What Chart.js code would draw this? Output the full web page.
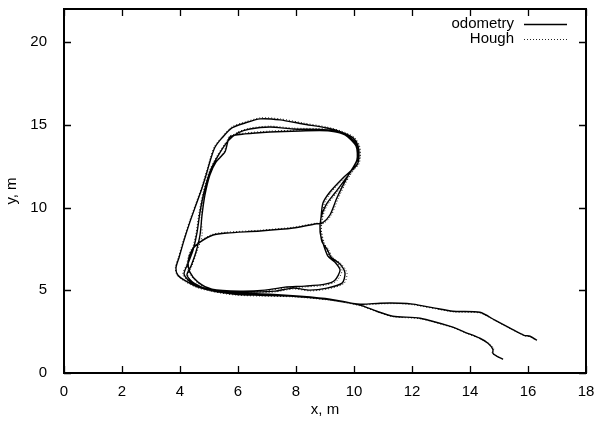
<!DOCTYPE html>
<html>
<head>
<meta charset="utf-8">
<title>odometry vs Hough</title>
<script src="https://cdn.jsdelivr.net/npm/chart.js@4"></script>
<style>
  body { margin: 0; background: #ffffff; }
  #wrap { width: 597px; height: 421px; }
</style>
</head>
<body>
<div id="wrap"><canvas id="trackChart" width="597" height="421"></canvas></div>
<script>
// ================= DATA =================
const xTicks = [0, 2, 4, 6, 8, 10, 12, 14, 16, 18];
const yTicks = [0, 5, 10, 15, 20];
const seriesNames = ['odometry', 'Hough'];

// odometry trajectory (x, m / y, m)
const odomX = [
  15.14, 14.93, 14.79, 14.79, 14.62, 14.34, 13.83, 13.41, 12.28, 11.34,
  10.79, 10.21, 9.17, 8.14, 7.10, 6.07, 5.21, 4.62, 4.21, 3.93,
  3.86, 3.97, 4.14, 4.34, 4.55, 4.76, 4.93, 5.07, 5.21, 5.45,
  5.79, 6.24, 6.76, 7.45, 8.24, 9.07, 9.55, 9.97, 10.14, 10.17,
  10.10, 9.62, 9.17, 8.93, 8.86, 8.83, 8.90, 9.07, 9.21, 9.52,
  9.69, 9.59, 9.07, 8.48, 7.90, 7.28, 6.59, 5.72, 4.97, 4.41,
  4.14, 4.28, 4.45, 4.59, 4.69, 4.83, 5.03, 5.31, 5.66, 6.00,
  6.41, 7.10, 7.90, 9.07, 9.69, 10.07, 10.10, 9.79, 9.41, 9.17,
  8.90, 8.70, 7.90, 6.76, 5.62, 5.14, 4.69, 4.41, 4.28, 4.34,
  4.62, 5.10, 6.07, 6.93, 7.62, 8.31, 9.00, 9.34, 9.52, 9.34,
  9.10, 8.93, 8.83, 8.86, 9.03, 9.34, 9.86, 10.14, 10.10, 9.79,
  9.17, 8.14, 7.10, 6.24, 5.72, 5.55, 5.24, 5.03, 4.86, 4.76,
  4.69, 4.55, 4.38, 4.24, 4.48, 5.03, 5.90, 6.76, 7.90, 9.07,
  10.21, 10.90, 11.59, 12.03, 12.79, 13.41, 14.34, 14.86, 15.38, 15.86,
  16.07, 16.31
];
const odomY = [
  0.83, 1.01, 1.19, 1.43, 1.80, 2.10, 2.46, 2.77, 3.31, 3.43,
  3.73, 4.10, 4.46, 4.64, 4.76, 4.82, 4.95, 5.19, 5.55, 5.91,
  6.34, 7.00, 8.03, 9.12, 10.15, 11.18, 12.15, 13.00, 13.66, 14.21,
  14.81, 15.11, 15.36, 15.30, 15.05, 14.81, 14.57, 14.21, 13.72, 13.06,
  12.57, 11.79, 10.94, 10.27, 9.36, 8.76, 7.91, 7.49, 7.00, 6.58,
  6.04, 5.43, 5.13, 5.01, 5.13, 4.95, 4.89, 4.89, 5.07, 5.43,
  5.97, 6.64, 7.43, 8.52, 9.73, 10.94, 12.15, 13.12, 14.03, 14.51,
  14.75, 14.87, 14.75, 14.69, 14.39, 13.72, 12.88, 11.91, 10.58, 9.55,
  9.05, 9.02, 8.76, 8.58, 8.46, 8.34, 7.91, 7.43, 6.70, 6.10,
  5.49, 5.07, 4.95, 5.01, 5.19, 5.25, 5.37, 5.61, 6.22, 6.70,
  7.06, 7.85, 8.52, 9.36, 10.15, 10.88, 12.09, 13.00, 13.78, 14.33,
  14.63, 14.63, 14.57, 14.45, 14.27, 13.36, 12.75, 11.97, 10.76, 9.55,
  8.34, 7.31, 6.46, 5.91, 5.43, 5.01, 4.76, 4.70, 4.64, 4.46,
  4.16, 4.22, 4.22, 4.16, 3.92, 3.73, 3.67, 3.19, 2.71, 2.28,
  2.22, 1.98
];

// Hough-based trajectory, almost on top of odometry
const houghX = [
  15.10, 14.90, 14.76, 14.82, 14.66, 14.36, 13.85, 13.43, 12.30, 11.36,
  10.80, 10.22, 9.18, 8.15, 7.11, 6.08, 5.22, 4.60, 4.18, 3.90,
  3.84, 3.95, 4.12, 4.32, 4.53, 4.74, 4.91, 5.05, 5.19, 5.44,
  5.78, 6.24, 6.77, 7.46, 8.25, 9.08, 9.57, 10.01, 10.19, 10.22,
  10.15, 9.67, 9.22, 8.98, 8.91, 8.87, 8.95, 9.12, 9.27, 9.58,
  9.76, 9.65, 9.10, 8.50, 7.91, 7.29, 6.60, 5.73, 4.97, 4.38,
  4.10, 4.25, 4.42, 4.56, 4.66, 4.80, 5.00, 5.28, 5.64, 5.99,
  6.41, 7.10, 7.90, 9.07, 9.72, 10.12, 10.15, 9.84, 9.46, 9.22,
  8.95, 8.71, 7.90, 6.76, 5.62, 5.13, 4.66, 4.38, 4.25, 4.31,
  4.60, 5.10, 6.07, 6.93, 7.62, 8.32, 9.03, 9.40, 9.59, 9.40,
  9.15, 8.98, 8.88, 8.91, 9.08, 9.40, 9.92, 10.20, 10.16, 9.83,
  9.18, 8.14, 7.10, 6.24, 5.70, 5.52, 5.21, 5.00, 4.83, 4.73,
  4.76, 4.58, 4.41, 4.27, 4.50, 5.04, 5.91, 6.77, 7.91, 9.08,
  10.22, 10.91, 11.60, 12.05, 12.81, 13.43, 14.36, 14.88, 15.40, 15.88,
  16.08, 16.28
];
const houghY = [
  0.86, 1.03, 1.22, 1.46, 1.78, 2.06, 2.42, 2.73, 3.27, 3.40,
  3.69, 4.06, 4.42, 4.60, 4.72, 4.78, 4.90, 5.15, 5.52, 5.90,
  6.36, 7.02, 8.05, 9.14, 10.17, 11.20, 12.17, 13.02, 13.70, 14.26,
  14.87, 15.17, 15.42, 15.36, 15.11, 14.86, 14.62, 14.25, 13.74, 13.06,
  12.56, 11.78, 10.93, 10.26, 9.35, 8.75, 7.90, 7.47, 6.98, 6.56,
  6.03, 5.40, 5.08, 4.96, 5.08, 4.90, 4.84, 4.85, 5.03, 5.41,
  5.96, 6.64, 7.43, 8.52, 9.73, 10.94, 12.16, 13.14, 14.07, 14.56,
  14.80, 14.92, 14.80, 14.74, 14.43, 13.74, 12.88, 11.90, 10.57, 9.54,
  9.04, 9.06, 8.81, 8.63, 8.51, 8.39, 7.94, 7.45, 6.70, 6.08,
  5.45, 5.02, 4.90, 4.96, 5.14, 5.20, 5.31, 5.56, 6.20, 6.70,
  7.06, 7.85, 8.52, 9.36, 10.15, 10.88, 12.09, 13.00, 13.80, 14.37,
  14.68, 14.68, 14.62, 14.50, 14.31, 13.36, 12.75, 11.97, 10.76, 9.55,
  8.34, 7.31, 6.46, 5.88, 5.38, 4.96, 4.71, 4.65, 4.60, 4.42,
  4.12, 4.18, 4.19, 4.12, 3.88, 3.69, 3.62, 3.15, 2.67, 2.25,
  2.18, 1.96
];

function toPoints(xs, ys) {
    return xs.map((x, i) => ({ x: x, y: ys[i] }));
}

// ================= PLUGINS =================
// gnuplot style frame: thick border, inward ticks on all four sides, key top right
const framePlugin = {
    id: 'frame',
    afterDraw(chart) {
        const ctx = chart.ctx;
        const a = chart.chartArea;
        const xs = chart.scales.x, ys = chart.scales.y;
        const tick = 7;
        ctx.save();
        ctx.strokeStyle = '#000';
        ctx.lineWidth = 1.3;
        ctx.beginPath();
        xTicks.forEach(v => {
            const px = Math.round(xs.getPixelForValue(v)) + 0.5;
            ctx.moveTo(px, a.bottom); ctx.lineTo(px, a.bottom - tick);
            ctx.moveTo(px, a.top); ctx.lineTo(px, a.top + tick);
        });
        yTicks.forEach(v => {
            const py = Math.round(ys.getPixelForValue(v)) + 0.5;
            ctx.moveTo(a.left, py); ctx.lineTo(a.left + tick, py);
            ctx.moveTo(a.right, py); ctx.lineTo(a.right - tick, py);
        });
        ctx.stroke();

        ctx.lineWidth = 2;
        ctx.strokeRect(a.left, a.top, a.right - a.left, a.bottom - a.top);

        // key
        ctx.font = '15px "Liberation Sans", Arial, sans-serif';
        ctx.fillStyle = '#000';
        ctx.textAlign = 'right';
        ctx.textBaseline = 'middle';
        const rows = [24, 39];
        chart.data.datasets.forEach((ds, i) => {
            ctx.fillText(ds.label, 514, rows[i]);
            ctx.strokeStyle = ds.borderColor;
            ctx.lineWidth = ds.borderWidth;
            ctx.setLineDash(ds.borderDash || []);
            ctx.beginPath();
            ctx.moveTo(524, rows[i] + 0.5);
            ctx.lineTo(567, rows[i] + 0.5);
            ctx.stroke();
        });
        ctx.restore();
    }
};

// ================= CHART =================
const labelFont = { family: '"Liberation Sans", Arial, sans-serif', size: 15 };

const ctx = document.getElementById('trackChart').getContext('2d');
const trackChart = new Chart(ctx, {
    type: 'scatter',
    data: {
        datasets: [
            {
                label: seriesNames[0],
                data: toPoints(odomX, odomY),
                showLine: true,
                borderColor: '#000000',
                borderWidth: 1.4,
                pointRadius: 0,
                tension: 0.25
            },
            {
                label: seriesNames[1],
                data: toPoints(houghX, houghY),
                showLine: true,
                borderColor: '#222222',
                borderWidth: 1,
                borderDash: [1, 2],
                pointRadius: 0,
                tension: 0.25
            }
        ]
    },
    options: {
        responsive: false,
        animation: false,
        layout: { padding: { top: 9, right: 11, left: 0, bottom: 0 } },
        plugins: {
            legend: { display: false },
            tooltip: { enabled: false }
        },
        scales: {
            x: {
                type: 'linear',
                min: 0, max: 18,
                afterBuildTicks: s => { s.ticks = xTicks.map(v => ({ value: v })); },
                afterFit: s => { s.height = 48; s.paddingLeft = 0; s.paddingRight = 0; },
                grid: { display: false },
                border: { display: false },
                ticks: { color: '#000', font: labelFont, padding: 2, maxRotation: 0 },
                title: { display: true, text: 'x, m', color: '#000', font: labelFont, padding: { top: 0, bottom: 2 } }
            },
            y: {
                type: 'linear',
                min: 0, max: 22,
                afterBuildTicks: s => { s.ticks = yTicks.map(v => ({ value: v })); },
                afterFit: s => { s.width = 64; s.paddingTop = 0; s.paddingBottom = 0; },
                grid: { display: false },
                border: { display: false },
                ticks: { color: '#000', font: labelFont, padding: 9 },
                title: { display: true, text: 'y, m', color: '#000', font: labelFont, padding: { top: 3, bottom: 0 } }
            }
        }
    },
    plugins: [framePlugin]
});
</script>
</body>
</html>
